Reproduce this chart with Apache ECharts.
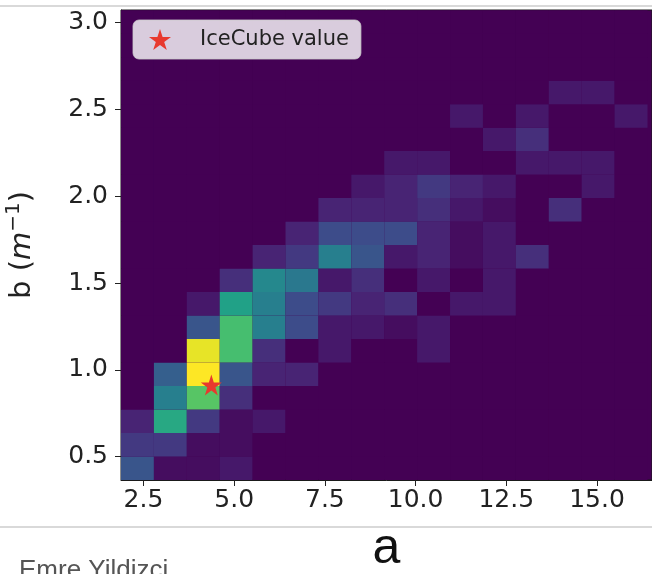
<!DOCTYPE html>
<html>
<head>
<meta charset="utf-8">
<script src="https://cdn.jsdelivr.net/npm/echarts@6/dist/echarts.min.js"></script>
<style>
  html, body { margin: 0; padding: 0; background: #ffffff; }
  #chart { width: 652px; height: 574px; }
</style>
</head>
<body>
<div id="chart"></div>
<script>
// 2D histogram of fitted (a, b) pairs
const aBinStart = 1.88;
const aBinWidth = 0.907;
const bBinStart = 0.366;
const bBinWidth = 0.1353;

// Counts per bin: one row per b bin (lowest first), one column per a bin
const countRows = [
  [8, 1, 1, 2, 0, 0, 0, 0, 0, 0, 0, 0, 0, 0, 0, 0],
  [5, 5, 1, 1, 0, 0, 0, 0, 0, 0, 0, 0, 0, 0, 0, 0],
  [3, 18, 5, 1, 2, 0, 0, 0, 0, 0, 0, 0, 0, 0, 0, 0],
  [0, 13, 22, 4, 0, 0, 0, 0, 0, 0, 0, 0, 0, 0, 0, 0],
  [0, 9, 30, 8, 3, 3, 0, 0, 0, 0, 0, 0, 0, 0, 0, 0],
  [0, 0, 29, 21, 4, 0, 2, 0, 0, 2, 0, 0, 0, 0, 0, 0],
  [0, 0, 8, 21, 13, 7, 2, 2, 1, 2, 0, 0, 0, 0, 0, 0],
  [0, 0, 2, 17, 13, 7, 5, 3, 4, 0, 2, 2, 0, 0, 0, 0],
  [0, 0, 0, 4, 14, 12, 2, 4, 0, 2, 0, 2, 0, 0, 0, 0],
  [0, 0, 0, 0, 3, 5, 13, 8, 2, 3, 1, 2, 4, 0, 0, 0],
  [0, 0, 0, 0, 0, 3, 7, 7, 7, 3, 1, 2, 0, 0, 0, 0],
  [0, 0, 0, 0, 0, 0, 3, 3, 3, 4, 2, 1, 0, 4, 0, 0],
  [0, 0, 0, 0, 0, 0, 0, 2, 3, 5, 3, 2, 0, 0, 2, 0],
  [0, 0, 0, 0, 0, 0, 0, 0, 2, 2, 0, 0, 2, 2, 2, 0],
  [0, 0, 0, 0, 0, 0, 0, 0, 0, 0, 0, 2, 4, 0, 0, 0],
  [0, 0, 0, 0, 0, 0, 0, 0, 0, 0, 2, 0, 2, 0, 0, 2],
  [0, 0, 0, 0, 0, 0, 0, 0, 0, 0, 0, 0, 0, 2, 2, 0],
  [0, 0, 0, 0, 0, 0, 0, 0, 0, 0, 0, 0, 0, 0, 0, 0],
  [0, 0, 0, 0, 0, 0, 0, 0, 0, 0, 0, 0, 0, 0, 0, 0],
  [0, 0, 0, 0, 0, 0, 0, 0, 0, 0, 0, 0, 0, 0, 0, 0]
];
const countMax = 30;

// Reference point
const iceCubeA = [4.37];
const iceCubeB = [0.913];

// Tick labels
const aTicks = [2.5, 5.0, 7.5, 10.0, 12.5, 15.0];
const bTicks = [0.5, 1.0, 1.5, 2.0, 2.5, 3.0];

const viridis = ['#440154', '#482878', '#3e4989', '#31688e', '#26828e',
                 '#1f9e89', '#35b779', '#6ece58', '#b5de2b', '#fde725'];

// five-pointed star outline used for the marker and its legend icon
function starPath() {
  const pts = [];
  for (let k = 0; k < 10; k++) {
    const r = k % 2 ? 0.382 : 1;
    const ang = -Math.PI / 2 + k * Math.PI / 5;
    pts.push((1 + r * Math.cos(ang)).toFixed(4) + ' ' + (1 + r * Math.sin(ang)).toFixed(4));
  }
  return 'path://M' + pts.join(' L') + ' Z';
}
const STAR = starPath();

// bin cells: [left a, bottom b, count]
const cells = [];
countRows.forEach((row, j) => {
  row.forEach((c, i) => {
    cells.push([aBinStart + i * aBinWidth, bBinStart + j * bBinWidth, c]);
  });
});

const tickFont = { fontFamily: 'DejaVu Sans', fontSize: 25, color: '#222222' };

const chart = echarts.init(document.getElementById('chart'), null, { renderer: 'canvas' });
chart.setOption({
  animation: false,
  backgroundColor: '#ffffff',
  grid: {
    left: 121, top: 10, right: 0, bottom: 94,
    outerBoundsMode: 'none',
    containLabel: false,
    show: true, backgroundColor: viridis[0],
    borderColor: '#1a1a1a', borderWidth: 1
  },
  xAxis: {
    type: 'value',
    min: aBinStart,
    max: 16.516,
    name: 'a',
    nameLocation: 'middle',
    nameGap: 44,
    nameTextStyle: { fontFamily: 'Liberation Sans', fontSize: 50, color: '#111111' },
    axisLine: { show: true, onZero: false, lineStyle: { color: '#1a1a1a', width: 1 } },
    axisTick: { show: true, length: 6, customValues: aTicks, lineStyle: { color: '#222222' } },
    axisLabel: Object.assign({ margin: 8, customValues: aTicks, formatter: v => v.toFixed(1) }, tickFont),
    splitLine: { show: false }
  },
  yAxis: {
    type: 'value',
    min: bBinStart,
    max: 3.073,
    name: '{t|b (}{i|m}{s|−1}{t|)}',
    nameLocation: 'middle',
    nameRotate: 90,
    nameGap: 81,
    nameTextStyle: {
      rich: {
        t: { fontFamily: 'DejaVu Sans', fontSize: 29, color: '#222222', lineHeight: 36 },
        i: { fontFamily: 'DejaVu Sans', fontStyle: 'italic', fontSize: 29, color: '#222222', lineHeight: 36 },
        s: { fontFamily: 'DejaVu Sans', fontSize: 20, color: '#222222', lineHeight: 20, verticalAlign: 'top' }
      }
    },
    axisLine: { show: true, onZero: false, lineStyle: { color: '#1a1a1a', width: 1 } },
    axisTick: { show: true, length: 6, customValues: bTicks, lineStyle: { color: '#222222' } },
    axisLabel: Object.assign({ margin: 13, customValues: bTicks, formatter: v => v.toFixed(1) }, tickFont),
    splitLine: { show: false }
  },
  visualMap: {
    show: false,
    type: 'continuous',
    seriesIndex: 0,
    dimension: 2,
    min: 0,
    max: countMax,
    inRange: { color: viridis }
  },
  legend: {
    left: 133,
    top: 20,
    selectedMode: false,
    data: [{ name: 'IceCube value', icon: STAR, itemStyle: { color: '#e8392e', opacity: 1 } }],
    itemWidth: 22,
    itemHeight: 21,
    padding: [9, 12, 9, 16],
    backgroundColor: 'rgba(255,255,255,0.8)',
    borderColor: 'rgba(204,204,204,0.8)',
    borderWidth: 1,
    borderRadius: 6,
    textStyle: { fontFamily: 'DejaVu Sans', fontSize: 21, color: '#222222', padding: [0, 0, 0, 24] }
  },
  graphic: [
    { type: 'line', shape: { x1: 0, y1: 6, x2: 652, y2: 6 }, style: { stroke: '#cccccc', lineWidth: 1.5 }, z: 100 },
    { type: 'line', shape: { x1: 0, y1: 527, x2: 652, y2: 527 }, style: { stroke: '#cccccc', lineWidth: 1.5 }, z: 100 },
    { type: 'text', left: 19, top: 558, style: { text: 'Emre Yildizci', fontFamily: 'Liberation Sans', fontSize: 26, fill: '#555555' }, z: 100 }
  ],
  series: [
    {
      type: 'custom',
      clip: true,
      data: cells,
      renderItem: function (params, api) {
        const p0 = api.coord([api.value(0), api.value(1)]);
        const p1 = api.coord([api.value(0) + aBinWidth, api.value(1) + bBinWidth]);
        return {
          type: 'rect',
          shape: { x: p0[0], y: p1[1], width: p1[0] - p0[0], height: p0[1] - p1[1] },
          style: { fill: api.visual('color') }
        };
      },
      z: 1
    },
    {
      type: 'scatter',
      name: 'IceCube value',
      symbol: STAR,
      symbolSize: 21,
      itemStyle: { color: '#e8392e', opacity: 1 },
      data: iceCubeA.map((a, k) => [a, iceCubeB[k]]),
      z: 5
    }
  ]
});
</script>
</body>
</html>
